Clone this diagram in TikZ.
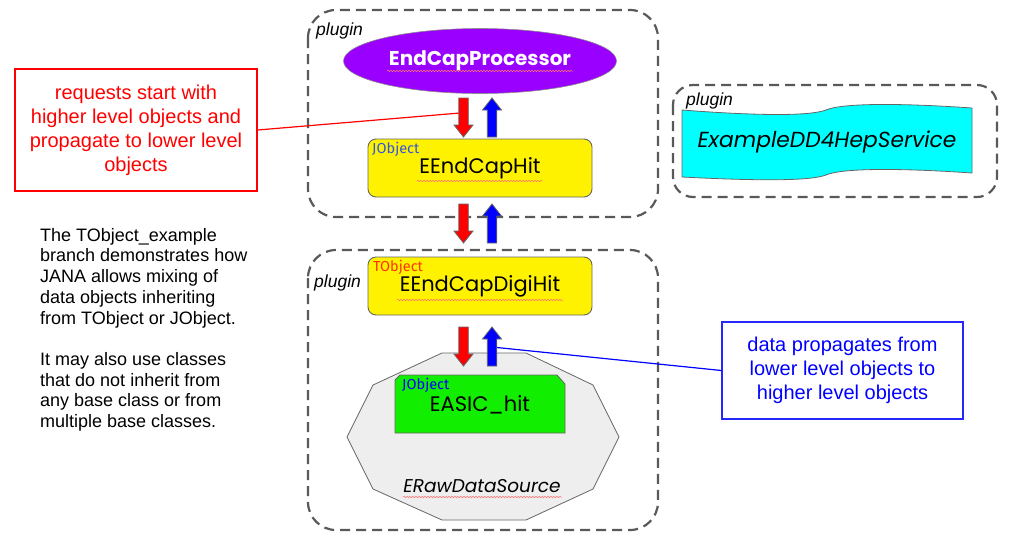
\documentclass[tikz,border=0pt]{standalone}
\usepackage{fontspec}
\setmainfont{Liberation Sans}
\newfontfamily\gothic{Poppins}
\newfontfamily\comicf{Fira Sans}
\usetikzlibrary{shapes.geometric,decorations.pathmorphing}
\definecolor{purp}{HTML}{9900FF}
\definecolor{jblue}{HTML}{3355DD}
\definecolor{tred}{HTML}{FF3300}
\definecolor{grn}{HTML}{11EE00}
\definecolor{svccyan}{HTML}{00FFFF}
\definecolor{dashgray}{HTML}{595959}
\definecolor{edgegray}{HTML}{666666}
\definecolor{srcgray}{HTML}{EEEEEE}
\newcommand{\blkdn}[4]{%
  \filldraw[draw=edgegray,line width=0.8pt,fill=#4]
    ({#1-4.75},#2) -- ({#1+4.75},#2) -- ({#1+4.75},{#3-12}) -- ({#1+9.5},{#3-12})
    -- (#1,#3) -- ({#1-9.5},{#3-12}) -- ({#1-4.75},{#3-12}) -- cycle;}
\newcommand{\blkup}[4]{%
  \filldraw[draw=edgegray,line width=0.8pt,fill=#4]
    ({#1-4.75},#3) -- ({#1+4.75},#3) -- ({#1+4.75},{#2+12}) -- ({#1+9.5},{#2+12})
    -- (#1,#2) -- ({#1-9.5},{#2+12}) -- ({#1-4.75},{#2+12}) -- cycle;}
\begin{document}
\begin{tikzpicture}[x=1pt,y=-1pt,
  plugbox/.style={draw=dashgray,line width=2.2pt,dash pattern=on 10pt off 6pt},
  pluglabel/.style={anchor=west,inner sep=0pt,font=\fontsize{17.5}{20}\selectfont\itshape},
  objbox/.style={draw=edgegray,line width=0.9pt,fill=yellow,rounded corners=8pt,
    minimum width=224pt,minimum height=58pt,inner sep=0pt,
    font=\gothic\fontsize{21}{24}\selectfont},
  baselabel/.style={anchor=west,inner sep=0pt,font=\comicf\fontsize{14.5}{16}\selectfont},
  squig/.style={draw=red!55,line width=0.5pt,decorate,
    decoration={snake,amplitude=0.8pt,segment length=3pt}},
  callout/.style={line width=1.1pt,align=center,inner sep=0pt,
    font=\fontsize{20}{24}\selectfont},
]
\useasboundingbox (0,0) rectangle (1015,539);

% plugin containers
\draw[plugbox,rounded corners=28pt] (308,10) rectangle (658,217);
\draw[plugbox,rounded corners=28pt] (308,250) rectangle (658,530);
\draw[plugbox,rounded corners=20pt] (673,85) rectangle (997,197);
\node[pluglabel] (pl1) at (316,31) {plugin};
\node[pluglabel] (pl2) at (314,283) {plugin};
\node[pluglabel] (pl3) at (686,101) {plugin};

% processor
\node[ellipse,fill=purp,draw=black!45,line width=0.6pt,minimum width=273pt,
  minimum height=65pt,inner sep=0pt,text=white,
  font=\gothic\bfseries\fontsize{20}{23}\selectfont] (proc) at (480,61) {EndCapProcessor};
\draw[squig] (387,71) -- (573,71);

% EEndCapHit
\node[objbox] (hit) at (480,168) {EEndCapHit};
\node[baselabel,text=jblue] (hitbase) at (372,149) {JObject};
\draw[squig] (417,181) -- (542,181);

% EEndCapDigiHit
\node[objbox] (digi) at (480,286) {EEndCapDigiHit};
\node[baselabel,text=tred] (digibase) at (373,267) {TObject};
\draw[squig] (397,300) -- (563,300);

% ERawDataSource
\filldraw[draw=edgegray,line width=0.8pt,fill=srcgray]
  (442,353) -- (526,353) -- (593,385) -- (619,437) -- (593,489) -- (526,520)
  -- (442,520) -- (373,489) -- (347,437) -- (373,385) -- cycle;
\node[inner sep=0pt,font=\gothic\itshape\fontsize{18.5}{21}\selectfont] (src) at (482,486) {ERawDataSource};
\draw[squig] (403,497) -- (562,497);

% EASIC_hit
\filldraw[draw=edgegray,line width=0.8pt,fill=grn]
  (395,433) -- (395,380) -- (400,375) -- (557,375) -- (565,384) -- (565,433) -- cycle;
\node[inner sep=0pt,font=\gothic\fontsize{21}{24}\selectfont] (asic) at (480,405) {EASIC\_hit};
\node[baselabel,text=blue] (asicbase) at (402,385) {JObject};

% service
\filldraw[draw=edgegray,line width=0.8pt,fill=svccyan]
  (682,110) .. controls (760,116) and (810,116) .. (826,110)
  .. controls (842,103) and (900,103) .. (972,108)
  -- (972,173)
  .. controls (900,168) and (842,168) .. (826,175)
  .. controls (810,181) and (760,181) .. (682,177) -- cycle;
\node[inner sep=0pt,font=\gothic\itshape\fontsize{21.8}{24}\selectfont] (svc) at (827,142) {ExampleDD4HepService};

% callouts
\node[callout,draw=red,text=red,minimum width=242pt,minimum height=122pt] (req) at (136,130)
  {requests start with\\higher level objects and\\propagate to lower level\\objects};
\node[callout,draw=blue!85,text=blue,minimum width=241pt,minimum height=97pt] (dat) at (842.5,370.5)
  {data propagates from\\lower level objects to\\higher level objects};
\coordinate (reqend) at (460,113);
\coordinate (datend) at (492,347);
\draw[red,line width=1.2pt] (req.east) -- (reqend);
\draw[blue,line width=1.2pt] (dat.west) -- (datend);

% block arrows
\blkdn{463.5}{98}{137}{red}
\blkup{492}{98}{137}{blue}
\blkdn{463.5}{204}{243}{red}
\blkup{492}{204}{243}{blue}
\blkdn{463.5}{327}{366}{red}
\blkup{492}{327}{366}{blue}

% note
\node[anchor=north west,align=left,inner sep=0pt,font=\fontsize{18}{20.7}\selectfont] (note) at (40,228)
  {The TObject\_example\\branch demonstrates how\\JANA allows mixing of\\data objects inheriting\\from TObject or JObject.\\[20.7pt]It may also use classes\\that do not inherit from\\any base class or from\\multiple base classes.};
\end{tikzpicture}
\end{document}
